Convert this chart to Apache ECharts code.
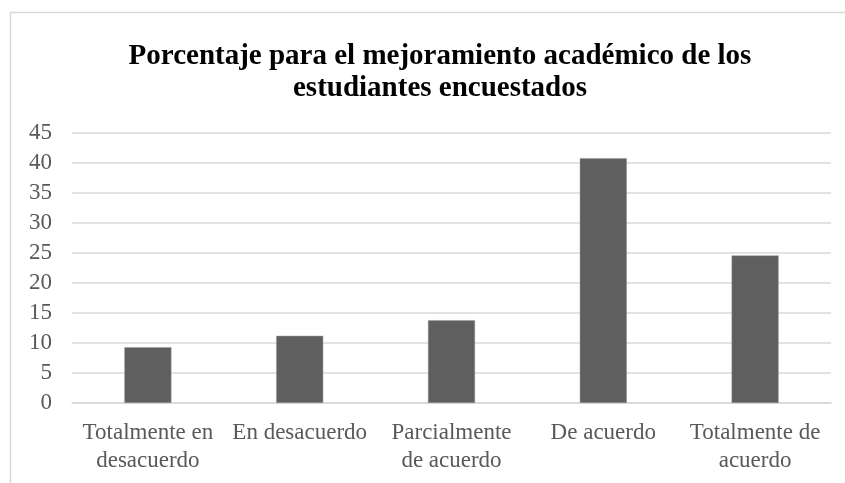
<!DOCTYPE html>
<html>
<head>
<meta charset="utf-8">
<script src="https://cdn.jsdelivr.net/npm/echarts@6/dist/echarts.min.js"></script>
<style>html,body{margin:0;padding:0;background:#fff}#c{width:845px;height:483px}</style>
</head>
<body>
<div id="c"></div>
<script>
const titleText = "Porcentaje para el mejoramiento académico de los\nestudiantes encuestados";
const categories = ["Totalmente en\ndesacuerdo", "En desacuerdo", "Parcialmente\nde acuerdo", "De acuerdo", "Totalmente de\nacuerdo"];
const values = [9.3, 11.2, 13.8, 40.8, 24.6];
const yTicks = { min: 0, max: 45, interval: 5 };

const chart = echarts.init(document.getElementById('c'), null, { renderer: 'canvas' });
chart.setOption({
  animation: false,
  backgroundColor: '#ffffff',
  graphic: [{
    type: 'rect',
    shape: { x: 10.5, y: 12.5, width: 900, height: 600 },
    style: { fill: 'none', stroke: '#d9d9d9', lineWidth: 1.5 },
    silent: true
  }],
  title: {
    text: titleText,
    left: 435,
    textAlign: 'center',
    top: 36,
    textStyle: {
      fontFamily: 'Liberation Serif',
      fontWeight: 'bold',
      fontSize: 29,
      lineHeight: 32,
      color: '#000000'
    }
  },
  grid: { left: 72, right: 14, top: 133, bottom: 80, containLabel: false },
  xAxis: {
    type: 'category',
    data: categories,
    axisLine: { show: true, lineStyle: { color: '#d9d9d9', width: 1.5 } },
    axisTick: { show: false },
    axisLabel: {
      interval: 0,
      margin: 16,
      fontFamily: 'Liberation Serif',
      fontSize: 23,
      lineHeight: 28,
      color: '#595959'
    }
  },
  yAxis: {
    type: 'value',
    min: yTicks.min,
    max: yTicks.max,
    interval: yTicks.interval,
    axisLine: { show: false },
    axisTick: { show: false },
    splitLine: { lineStyle: { color: '#d9d9d9', width: 1.5 } },
    axisLabel: {
      margin: 20,
      fontFamily: 'Liberation Serif',
      fontSize: 23,
      color: '#595959'
    }
  },
  series: [{
    type: 'bar',
    data: values,
    barWidth: '31%',
    itemStyle: { color: '#5f5f5f', borderColor: '#9a9a9a', borderWidth: 0.5 }
  }]
});
</script>
</body>
</html>
